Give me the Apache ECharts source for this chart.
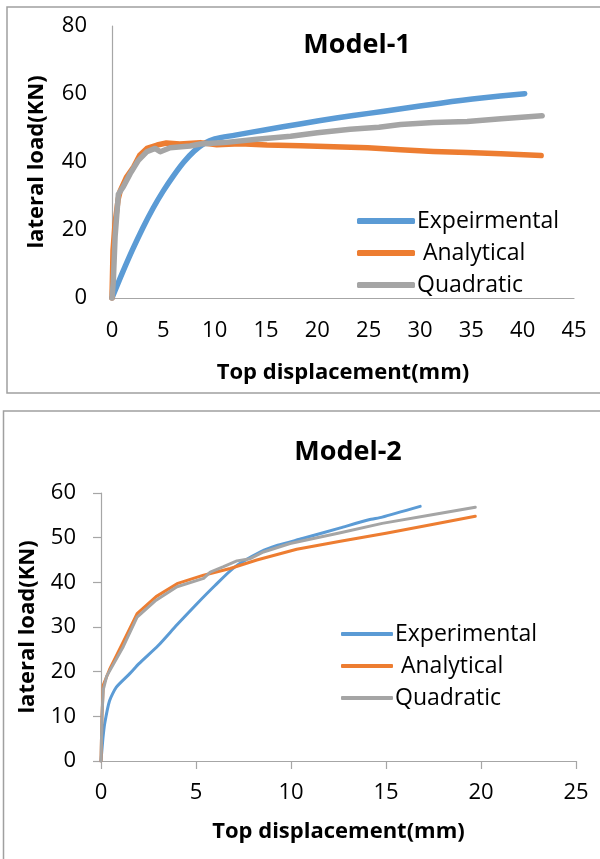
<!DOCTYPE html>
<html>
<head>
<meta charset="utf-8">
<script src="https://cdn.jsdelivr.net/npm/echarts@6/dist/echarts.min.js"></script>
<style>
  html, body { margin: 0; padding: 0; background: #fff; }
  #chart { width: 600px; height: 859px; }
</style>
</head>
<body>
<div id="chart"></div>
<script>
// Model-1: lateral load (kN) vs top displacement (mm)
const m1Experimental = [[0,0],[0.3,2.2],[1,7.3],[2,14.2],[3,20.6],[4,26.4],[5,31.5],[6,36],[7,40],[8,43.2],[9,45.5],[10,46.8],[12,47.9],[15,49.5],[18.3,51.2],[22,53],[25,54.3],[28,55.6],[32,57.3],[36,58.8],[40.2,60.1]];
const m1Analytical = [[0,0],[0.1,14],[0.3,22],[0.6,29],[0.8,31.5],[1.4,35.5],[2.1,38.5],[2.7,42],[3.4,44],[4.4,45],[5.3,45.6],[6.6,45.3],[8.6,45.7],[10.2,45.1],[12.5,45.4],[15.1,45],[18.4,44.8],[21.6,44.5],[24.9,44.2],[28.1,43.6],[31.3,43.1],[34.6,42.8],[37.9,42.4],[41.8,41.9]];
const m1Quadratic = [[0,0],[0.13,5],[0.3,18],[0.62,30.5],[1.1,32.7],[1.76,36.5],[2.57,40.5],[3.38,43],[4.2,44],[4.7,43],[5.66,44.2],[7.6,44.7],[8.6,45.3],[10.9,45.7],[14.1,46.7],[17.4,47.6],[20,48.6],[23.2,49.6],[26,50.2],[28.1,51],[31.3,51.6],[34.6,51.9],[37.9,52.7],[41.9,53.6]];

// Model-2
const m2Experimental = [[0,0],[0.1,5],[0.2,8.5],[0.45,13.5],[0.8,16.5],[1.5,19.5],[2,21.8],[3,25.8],[4,30.5],[5,35],[6,39.3],[7,43.3],[8.4,46.8],[9.3,48.3],[10.6,49.8],[12.6,52.2],[14.1,54],[14.8,54.6],[16.8,57]];
const m2Analytical = [[0,0],[0.05,10],[0.12,17],[0.45,20.5],[1.15,26.5],[1.9,33],[2.9,36.8],[4,39.7],[5.4,41.6],[6.8,43.1],[8.2,45],[10.3,47.4],[12.6,49.2],[15,51],[17.5,53],[19.7,54.8]];
const m2Quadratic = [[0,0],[0.05,10],[0.12,16],[0.3,19],[1.17,25.6],[1.9,32.2],[2.9,36],[4,39],[5.4,40.9],[5.75,42.3],[6.45,43.5],[7.15,44.8],[7.85,45.3],[8.55,46.8],[9.95,48.7],[12.6,51.1],[14.8,53.2],[17.5,55.2],[19.7,56.8]];

const titles = ['Model-1', 'Model-2'];
const xAxisName = 'Top displacement(mm)';
const yAxisName = 'lateral load(KN)';
const m1Names = ['Expeirmental', ' Analytical', 'Quadratic'];
const m2Names = ['Experimental', ' Analytical', 'Quadratic'];

const FONT = 'Open Sans';
const BLUE = '#5B9BD5', ORANGE = '#ED7D31', GRAY = '#A5A5A5';
const AXIS = '#A6A6A6';

const chart = echarts.init(document.getElementById('chart'));

function lineSeries(name, data, color, width, gridIdx, smooth) {
  return {
    type: 'line', name: name, data: data,
    xAxisIndex: gridIdx, yAxisIndex: gridIdx,
    symbol: 'none', smooth: smooth || false,
    lineStyle: { color: color, width: width, cap: 'round', join: 'round' },
    itemStyle: { color: color },
    animation: false
  };
}

function xAxis(gridIdx, max, gap, ticks, labelMargin) {
  return {
    type: 'value', gridIndex: gridIdx, min: 0, max: max, interval: 5,
    name: xAxisName, nameLocation: 'middle', nameGap: gap,
    nameTextStyle: { fontFamily: FONT, fontWeight: 'bold', fontSize: 22, color: '#000' },
    axisLine: { show: true, lineStyle: { color: AXIS, width: 1.2 } },
    axisTick: { show: ticks, length: 8, lineStyle: { color: AXIS, width: 1.2 } },
    splitLine: { show: false },
    axisLabel: { fontFamily: FONT, fontSize: 22, color: '#000', margin: labelMargin }
  };
}

function yAxis(gridIdx, max, interval, gap, ticks) {
  return {
    type: 'value', gridIndex: gridIdx, min: 0, max: max, interval: interval,
    name: yAxisName, nameLocation: 'middle', nameGap: gap, nameRotate: 90,
    nameTextStyle: { fontFamily: FONT, fontWeight: 'bold', fontSize: 22, color: '#000' },
    axisLine: { show: true, lineStyle: { color: AXIS, width: 1.2 } },
    axisTick: { show: ticks, length: 8, lineStyle: { color: AXIS, width: 1.2 } },
    splitLine: { show: false },
    axisLabel: { fontFamily: FONT, fontSize: 22, color: '#000', margin: 25 }
  };
}

function legend(names, left, top, w, h) {
  return {
    orient: 'vertical', left: left, top: top,
    data: names.map(n => ({ name: n, icon: 'roundRect' })),
    itemWidth: w, itemHeight: h, itemGap: 8,
    selectedMode: false,
    textStyle: { fontFamily: FONT, fontSize: 23, color: '#000', lineHeight: 24, padding: [0, 0, 0, -3] }
  };
}

chart.setOption({
  animation: false,
  title: [
    { text: titles[0], left: 352, top: 27, textAlign: 'center',
      textStyle: { fontFamily: FONT, fontWeight: 'bold', fontSize: 27, color: '#000' } },
    { text: titles[1], left: 343, top: 434, textAlign: 'center',
      textStyle: { fontFamily: FONT, fontWeight: 'bold', fontSize: 27, color: '#000' } }
  ],
  graphic: [
    { type: 'rect', shape: { x: 7, y: 7, width: 610, height: 386 },
      style: { fill: 'none', stroke: '#A0A0A0', lineWidth: 1.5 }, silent: true },
    { type: 'rect', shape: { x: 3.5, y: 411, width: 610, height: 470 },
      style: { fill: 'none', stroke: '#A0A0A0', lineWidth: 1.5 }, silent: true }
  ],
  grid: [
    { left: 112, top: 26, width: 462, height: 272 },
    { left: 101, top: 493, width: 475, height: 268 }
  ],
  xAxis: [ xAxis(0, 45, 64, false, 22), xAxis(1, 25, 60, true, 21) ],
  yAxis: [ yAxis(0, 80, 20, 64, false), yAxis(1, 60, 10, 62, true) ],
  legend: [
    legend(m1Names, 352, 204, 58, 6),
    legend(m2Names, 336, 617, 52, 4)
  ],
  series: [
    lineSeries(m1Names[0], m1Experimental, BLUE, 5.5, 0, 0.3),
    lineSeries(m1Names[1], m1Analytical, ORANGE, 5.5, 0),
    lineSeries(m1Names[2], m1Quadratic, GRAY, 5.5, 0),
    lineSeries(m2Names[0], m2Experimental, BLUE, 3, 1, 0.2),
    lineSeries(m2Names[1], m2Analytical, ORANGE, 3, 1),
    lineSeries(m2Names[2], m2Quadratic, GRAY, 3, 1)
  ]
});
</script>
</body>
</html>
